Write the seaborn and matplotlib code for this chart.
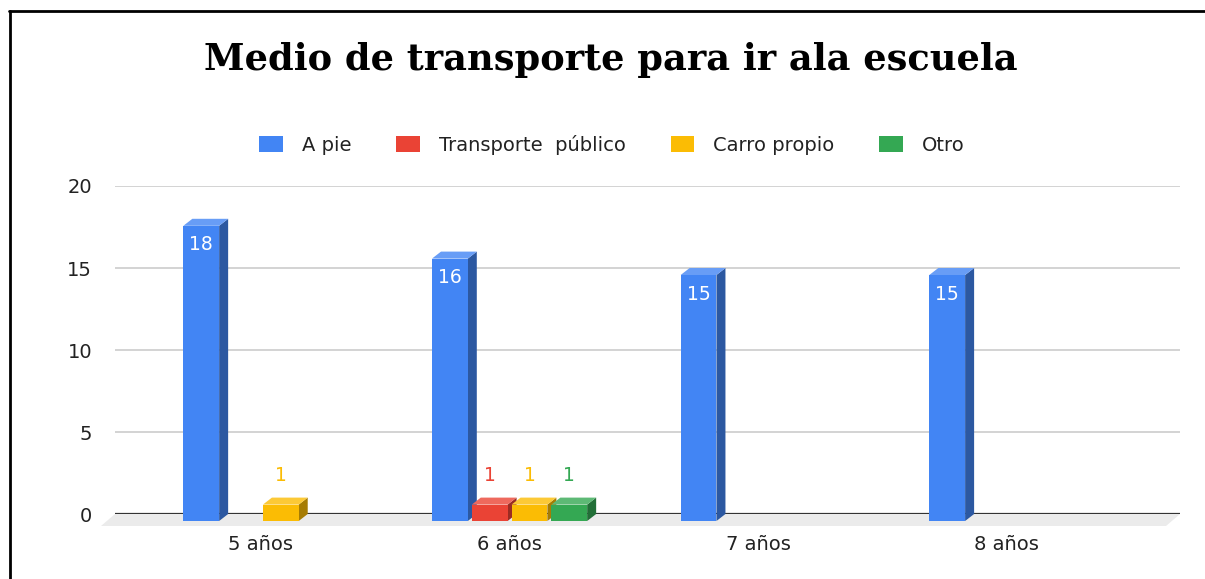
import numpy as np
import pandas as pd
import matplotlib
matplotlib.use('Agg')
import matplotlib.pyplot as plt
import seaborn as sns
from matplotlib.patches import Polygon, Patch
from matplotlib.lines import Line2D
from matplotlib.transforms import offset_copy, IdentityTransform
from matplotlib.colors import to_rgb

# Datos del grafico
categorias = ['5 años', '6 años', '7 años', '8 años']
series = ['A pie', 'Transporte  público', 'Carro propio', 'Otro']
a_pie = [18, 16, 15, 15]
transporte_publico = [0, 1, 0, 0]
carro_propio = [1, 1, 0, 0]
otro = [0, 1, 0, 0]
colores = ['#4285F4', '#EA4335', '#FBBC04', '#34A853']
yticks = [0, 5, 10, 15, 20]

df = pd.DataFrame({
    'edad': categorias * 4,
    'medio': np.repeat(series, len(categorias)),
    'valor': a_pie + transporte_publico + carro_propio + otro,
})

sns.set_style('white')
plt.rcParams['font.family'] = ['DejaVu Sans']

W, H = 1205, 579
fig = plt.figure(figsize=(W / 100, H / 100), dpi=100)
ax = fig.add_axes([115 / W, 65 / H, 1065 / W, 328 / H])

sns.barplot(data=df, x='edad', y='valor', hue='medio', order=categorias,
            hue_order=series, palette=colores, width=0.64, gap=0.1,
            saturation=1, errorbar=None, legend=False, ax=ax)

ax.set_xlim(-0.623, 3.66)
ax.set_ylim(0, 20)
ax.set_yticks(yticks)
ax.set_xticks(range(len(categorias)), labels=[''] * len(categorias))
ax.set_xlabel('')
ax.set_ylabel('')
ax.yaxis.grid(True, color='#CCCCCC', lw=1.2)
ax.set_axisbelow(True)
sns.despine(ax=ax, left=True, bottom=True)
ax.tick_params(left=False, bottom=False, labelsize=14, pad=13, colors='#222222')
ax.axhline(0, color='#333333', lw=1.6, zorder=1.5)

# efecto 3D
DX, DY = 9, 7
X_L, Y0 = ax.transAxes.transform((0, 0))
X_R, _ = ax.transAxes.transform((1, 0))
bars = list(ax.patches)
ax.add_patch(Polygon([(X_L, Y0), (X_R, Y0), (X_R - 14, Y0 - 12), (X_L - 14, Y0 - 12)],
                     closed=True, transform=IdentityTransform(), clip_on=False,
                     facecolor='#EBEBEB', edgecolor='none', zorder=1))

front = offset_copy(ax.transData, fig=fig, x=-DX, y=-DY, units='dots')
for p in bars:
    h = p.get_height()
    if h <= 0:
        p.set_visible(False)
        continue
    base = np.array(to_rgb(p.get_facecolor()))
    x0 = p.get_x()
    x1 = x0 + p.get_width()
    xc = x0 + p.get_width() / 2
    (PX0, PY0) = ax.transData.transform((x0, 0))
    (PX1, PYH) = ax.transData.transform((x1, h))
    side = Polygon([(PX1 - DX, PY0 - DY), (PX1 - DX, PYH - DY), (PX1, PYH), (PX1, PY0)],
                   closed=True, transform=IdentityTransform(), clip_on=False,
                   facecolor=base * 0.66, edgecolor='none', zorder=2.5)
    top = Polygon([(PX0 - DX, PYH - DY), (PX1 - DX, PYH - DY), (PX1, PYH), (PX0, PYH)],
                  closed=True, transform=IdentityTransform(), clip_on=False,
                  facecolor=base + (1 - base) * 0.2, edgecolor='none', zorder=2.5)
    ax.add_patch(side)
    ax.add_patch(top)
    p.set_transform(front)
    p.set_clip_on(False)
    p.set_edgecolor('none')
    p.set_zorder(3)
    if h >= 5:
        ax.text(xc, h, f'{h:g}', color='white', fontsize=13.5, ha='center', va='center',
                transform=offset_copy(ax.transData, fig=fig, x=-DX, y=-26, units='dots'), zorder=4)
    else:
        ax.text(xc, h, f'{h:g}', color=base, fontsize=13.5, ha='center', va='center',
                transform=offset_copy(ax.transData, fig=fig, x=-DX, y=22, units='dots'), zorder=4)

for i, cat in enumerate(categorias):
    ax.text(i, 0, cat, fontsize=14, color='#222222', ha='center', va='center',
            transform=offset_copy(ax.get_xaxis_transform(), fig=fig, x=-DX, y=-31, units='dots'))

fig.text(611 / W, 1 - 60 / H, 'Medio de transporte para ir ala escuela',
         family='DejaVu Serif', fontweight='bold', fontsize=26.5, color='black',
         ha='center', va='center')

handles = [Patch(facecolor=c, edgecolor='none', label=s) for c, s in zip(colores, series)]
leg = fig.legend(handles=handles, loc='center', bbox_to_anchor=(612 / W, 1 - 145 / H),
                 ncol=4, frameon=False, fontsize=14, handlelength=1.2, handleheight=0.9,
                 columnspacing=2.3, handletextpad=1.0)
for t in leg.get_texts():
    t.set_color('#222222')

# marco
fig.add_artist(Line2D([9.5 / W, 9.5 / W], [0, 1 - 11 / H], color='black', lw=2))
fig.add_artist(Line2D([8.5 / W, 1], [1 - 11 / H, 1 - 11 / H], color='black', lw=2))

fig.savefig('out.png', dpi=100)
